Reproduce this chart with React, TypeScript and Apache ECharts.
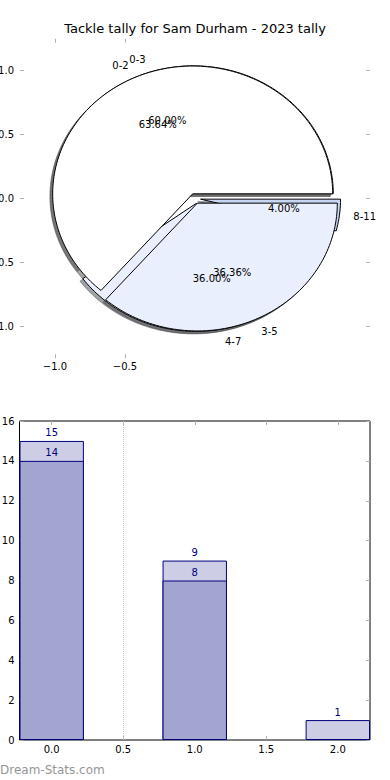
import React, { useEffect, useRef } from "react";
import * as echarts from "echarts";

const TITLE = "Tackle tally for Sam Durham - 2023 tally";
const WATERMARK = "Dream-Stats.com";

// Pie drawn first (underneath): 2023 ranges
const pieNowLabels = ["0-3", "4-7", "8-11"];
const pieNowValues = [15, 9, 1];
// Pie drawn on top
const piePrevLabels = ["0-2", "3-5"];
const piePrevValues = [14, 8];

const pieTicksX = [-1, -0.5];
const pieTicksY = [-1, -0.5, 0, 0.5, 1];

const barPositions = [0, 1, 2];
const barOuterValues = [15, 9, 1];
const barInnerValues = [14, 8];
const barTicksX = [0, 0.5, 1, 1.5, 2];
const barTicksY = [0, 2, 4, 6, 8, 10, 12, 14, 16];

const FONT = "DejaVu Sans";
const EXPLODE = 0.04;
const SHADOW_OFF = -0.02;
const LABEL_DIST = 1.1;
const PCT_DIST = 0.6;
const wedgeColors = ["#ffffff", "#e9effc", "#c6d6f3"];
const TICK_COLOR = "#b0b0b0";

type Wedge = { start: number; end: number; label: string; pct: string; color: string };

function buildWedges(labels: string[], values: number[]): Wedge[] {
  const total = values.reduce((a, b) => a + b, 0);
  let acc = 0;
  return values.map((v, i) => {
    const start = (acc / total) * 360;
    acc += v;
    const end = (acc / total) * 360;
    return { start, end, label: labels[i], pct: ((v / total) * 100).toFixed(2) + "%", color: wedgeColors[i] };
  });
}

function shadowColor(hex: string) {
  const r = parseInt(hex.slice(1, 3), 16) * 0.3;
  const g = parseInt(hex.slice(3, 5), 16) * 0.3;
  const b = parseInt(hex.slice(5, 7), 16) * 0.3;
  return `rgba(${Math.round(r)},${Math.round(g)},${Math.round(b)},0.5)`;
}

const fmt = (v: number) => (v < 0 ? "\u2212" + Math.abs(v).toFixed(1) : v.toFixed(1));

export default function App() {
  const ref = useRef<HTMLDivElement>(null);
  useEffect(() => {
    document.body.style.margin = "0";
    if (!ref.current) return;
    const chart = echarts.init(ref.current, undefined, { renderer: "svg" });

    const nowW = buildWedges(pieNowLabels, pieNowValues);
    const prevW = buildWedges(piePrevLabels, piePrevValues);
    const allW = [...nowW, ...prevW];

    const wedgeRender = (list: Wedge[], shadow: boolean) => (params: any, api: any) => {
      const w = list[params.dataIndex];
      const s = api.value(0);
      const e = api.value(1);
      const mid = (((s + e) / 2) * Math.PI) / 180;
      const ox = EXPLODE * Math.cos(mid) + (shadow ? SHADOW_OFF : 0);
      const oy = EXPLODE * Math.sin(mid) + (shadow ? SHADOW_OFF : 0);
      const pts: number[][] = [api.coord([ox, oy])];
      const n = Math.max(2, Math.ceil((e - s) / 1.5));
      for (let k = 0; k <= n; k++) {
        const t = ((s + ((e - s) * k) / n) * Math.PI) / 180;
        pts.push(api.coord([ox + Math.cos(t), oy + Math.sin(t)]));
      }
      const fill = shadow ? shadowColor(w.color) : w.color;
      const stroke = shadow ? shadowColor(w.color) : "#000000";
      return {
        type: "polygon",
        silent: true,
        shape: { points: pts },
        style: { fill, stroke, lineWidth: 1 },
      };
    };

    const labelItems: { x: number; y: number; text: string; align: string }[] = [];
    allW.forEach((w) => {
      const mid = (((w.start + w.end) / 2) * Math.PI) / 180;
      const c = Math.cos(mid);
      const s = Math.sin(mid);
      labelItems.push({
        x: (EXPLODE + LABEL_DIST) * c,
        y: (EXPLODE + LABEL_DIST) * s,
        text: w.label,
        align: c < 0 ? "right" : "left",
      });
      labelItems.push({
        x: (EXPLODE + PCT_DIST) * c,
        y: (EXPLODE + PCT_DIST) * s,
        text: w.pct,
        align: "center",
      });
    });

    const tickStyle = { show: true, inside: true, length: 4, lineStyle: { color: TICK_COLOR, width: 1 } };
    const labelStyle = { color: "#000", fontSize: 10, fontFamily: FONT };

    const gridW = 350.5;
    const barWidthPx = (0.45 * gridW) / 2.45;

    const mkAxis = (
      gridIndex: number,
      position: string,
      min: number,
      max: number,
      ticks: number[],
      showLabel: boolean,
      margin: number,
      formatter: (v: number) => string
    ) => ({
      gridIndex,
      type: "value",
      position,
      min,
      max,
      axisLine: { show: false, onZero: false },
      splitLine: { show: false },
      axisTick: { ...tickStyle, customValues: ticks },
      axisLabel: showLabel ? { ...labelStyle, margin, customValues: ticks, formatter } : { show: false },
    });

    const intFmt = (v: number) => String(v);

    const option: any = {
      animation: false,
      backgroundColor: "#ffffff",
      title: {
        text: TITLE,
        left: "center",
        top: 22,
        padding: 0,
        textStyle: { fontSize: 13, fontWeight: "normal", color: "#000", fontFamily: FONT },
      },
      grid: [
        { left: 20, top: 38.75, width: 350, height: 319.5, show: false, containLabel: false, outerBoundsMode: "none" },
        {
          left: 19.5,
          top: 421,
          width: gridW,
          height: 319,
          show: true,
          borderColor: "#000",
          borderWidth: 1,
          backgroundColor: "transparent",
          containLabel: false,
          outerBoundsMode: "none",
        },
      ],
      xAxis: [
        mkAxis(0, "bottom", -1.25, 1.25, pieTicksX, true, 3, fmt),
        mkAxis(0, "top", -1.25, 1.25, pieTicksX, false, 3, fmt),
        mkAxis(1, "bottom", -0.225, 2.225, barTicksX, true, 4, fmt),
        mkAxis(1, "top", -0.225, 2.225, barTicksX, false, 4, fmt),
      ],
      yAxis: [
        mkAxis(0, "left", -1.25, 1.25, pieTicksY, true, 6, fmt),
        mkAxis(0, "right", -1.25, 1.25, pieTicksY, false, 6, fmt),
        mkAxis(1, "left", 0, 16, barTicksY, true, 5, intFmt),
        mkAxis(1, "right", 0, 16, barTicksY, false, 5, intFmt),
      ],
      series: [
        {
          type: "custom",
          xAxisIndex: 0,
          yAxisIndex: 0,
          z: 1,
          silent: true,
          data: allW.map((w, i) => [w.start, w.end, i]),
          renderItem: wedgeRender(allW, true),
        },
        {
          type: "custom",
          xAxisIndex: 0,
          yAxisIndex: 0,
          z: 2,
          silent: true,
          data: nowW.map((w, i) => [w.start, w.end, i]),
          renderItem: wedgeRender(nowW, false),
        },
        {
          type: "custom",
          xAxisIndex: 0,
          yAxisIndex: 0,
          z: 3,
          silent: true,
          data: prevW.map((w, i) => [w.start, w.end, i]),
          renderItem: wedgeRender(prevW, false),
        },
        {
          type: "custom",
          xAxisIndex: 0,
          yAxisIndex: 0,
          z: 4,
          silent: true,
          data: labelItems.map((l) => [l.x, l.y]),
          renderItem: (params: any, api: any) => {
            const l = labelItems[params.dataIndex];
            const p = api.coord([api.value(0), api.value(1)]);
            return {
              type: "text",
              x: p[0],
              y: p[1],
              silent: true,
              style: {
                text: l.text,
                fill: "#000",
                fontSize: 10,
                fontFamily: FONT,
                align: l.align,
                verticalAlign: "middle",
              },
            };
          },
        },
        {
          type: "bar",
          xAxisIndex: 2,
          yAxisIndex: 2,
          barWidth: barWidthPx,
          barGap: "-100%",
          z: 2,
          data: barPositions.map((x, i) => [x, barOuterValues[i]]),
          itemStyle: { color: "#cdcde5", borderColor: "#000080", borderWidth: 1 },
          label: { show: true, position: "top", distance: 3, color: "#000080", fontSize: 10, fontFamily: FONT },
          markLine: {
            silent: true,
            symbol: ["none", "none"],
            label: { show: false },
            lineStyle: { type: "dotted", color: "#c4c4c4", width: 1 },
            data: [{ xAxis: 0.5 }],
          },
        },
        {
          type: "bar",
          xAxisIndex: 2,
          yAxisIndex: 2,
          barWidth: barWidthPx,
          barGap: "-100%",
          z: 3,
          data: barInnerValues.map((v, i) => [barPositions[i], v]),
          itemStyle: { color: "#a3a5d1", borderColor: "#000080", borderWidth: 1 },
          label: { show: true, position: "top", distance: 3, color: "#000080", fontSize: 10, fontFamily: FONT },
        },
      ],
      graphic: [
        {
          type: "text",
          left: 0,
          top: 764,
          style: { text: WATERMARK, fill: "#959595", fontSize: 12, fontFamily: FONT },
        },
      ],
    };

    chart.setOption(option);
    return () => chart.dispose();
  }, []);

  return <div ref={ref} style={{ width: 390, height: 780 }} />;
}
